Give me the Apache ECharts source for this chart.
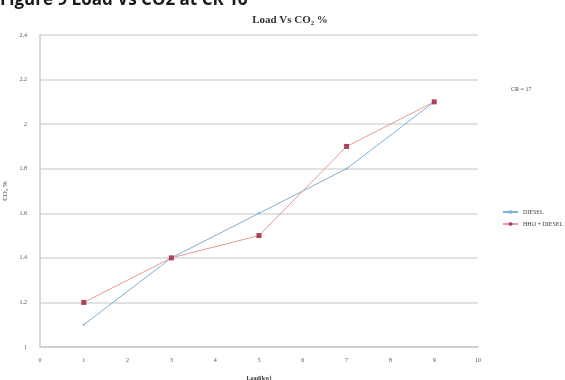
<!DOCTYPE html>
<html>
<head>
<meta charset="utf-8">
<script src="https://cdn.jsdelivr.net/npm/echarts@6/dist/echarts.min.js"></script>
<style>
  html, body { margin: 0; padding: 0; background: #fff; }
  #chart { width: 565px; height: 380px; }
</style>
</head>
<body>
<div id="chart"></div>
<script>
// Engine load (kW) against CO2 emission (%)
const loads = [1, 3, 5, 7, 9];
const diesel = [1.1, 1.4, 1.6, 1.8, 2.1];
const hhoDiesel = [1.2, 1.4, 1.5, 1.9, 2.1];
const seriesNames = ['DIESEL', 'HHO + DIESEL'];

const pairs = (xs, ys) => xs.map((x, i) => [x, ys[i]]);

const chart = echarts.init(document.getElementById('chart'));
const tickFont = { fontFamily: 'Liberation Serif', fontSize: 6, color: '#555' };

chart.setOption({
  animation: false,
  backgroundColor: '#fff',
  title: [{
    text: 'Load Vs CO\u2082 %',
    left: 285, top: 10, textAlign: 'center',
    textStyle: { fontFamily: 'Liberation Serif', fontWeight: 'bold', fontSize: 11, color: '#333' }
  }],
  graphic: [
    {
      type: 'text', left: 0, top: -8,
      style: { text: 'Figure 9 Load Vs CO2 at CR 16', font: 'bold 17px "Open Sans"', fill: '#1a1a1a' }
    },
    {
      type: 'text', left: 511, top: 86,
      style: { text: 'CR = 17', font: '6px "Liberation Serif"', fill: '#444' }
    }
  ],
  legend: {
    orient: 'vertical', left: 497, top: 204, itemGap: 6,
    itemWidth: 15, itemHeight: 4,
    textStyle: { fontFamily: 'Liberation Serif', fontSize: 6, color: '#444' },
    data: seriesNames
  },
  grid: { left: 40, right: 87, top: 35, bottom: 33, outerBoundsMode: 'none', containLabel: false },
  xAxis: {
    type: 'value', min: 0, max: 10, interval: 1,
    name: 'Load(kw)', nameLocation: 'middle', nameGap: 28,
    nameTextStyle: { fontFamily: 'Liberation Serif', fontWeight: 'bold', fontSize: 6, color: '#333' },
    axisLine: { lineStyle: { color: '#ccc', width: 1.5 } },
    axisTick: { show: false },
    axisLabel: Object.assign({ margin: 10 }, tickFont),
    splitLine: { show: false }
  },
  yAxis: {
    type: 'value', min: 1, max: 2.4, interval: 0.2,
    name: 'CO\u2082 %', nameLocation: 'middle', nameGap: 30,
    nameTextStyle: { fontFamily: 'Liberation Serif', fontSize: 7, color: '#333' },
    axisLine: { show: true, lineStyle: { color: '#ccc', width: 1.5 } },
    axisTick: { show: false },
    axisLabel: Object.assign({ margin: 13, formatter: v => String(+v.toFixed(1)) }, tickFont),
    splitLine: { lineStyle: { color: '#d9d9d9', width: 1.5 } }
  },
  series: [
    {
      name: seriesNames[0], type: 'line', data: pairs(loads, diesel),
      symbol: 'rect', symbolSize: 2, showSymbol: true,
      lineStyle: { color: '#7fb0d8', width: 1 },
      itemStyle: { color: '#7fb0d8' }
    },
    {
      name: seriesNames[1], type: 'line', data: pairs(loads, hhoDiesel),
      symbol: 'rect', symbolSize: 5,
      lineStyle: { color: '#e89a9a', width: 1 },
      itemStyle: { color: '#b0405a' }
    }
  ]
});
</script>
</body>
</html>
